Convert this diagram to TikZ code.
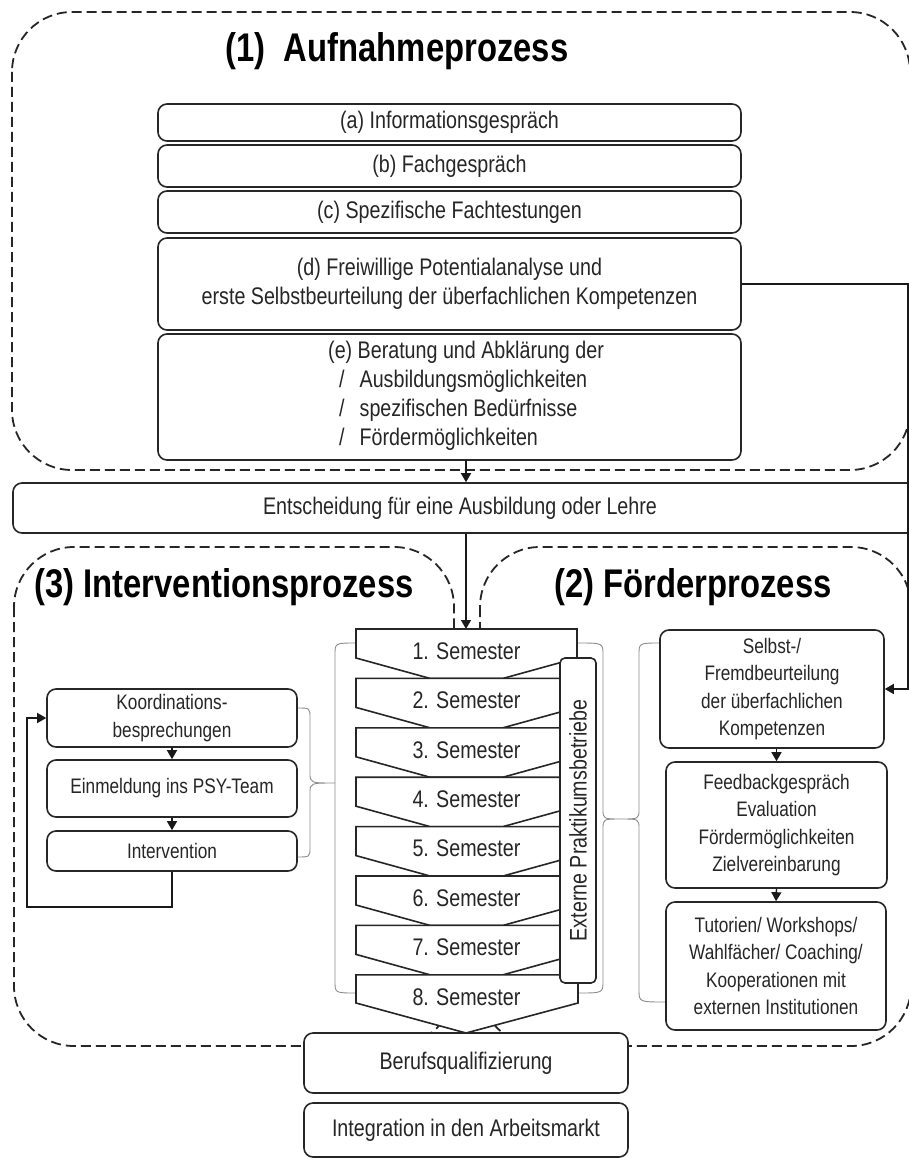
\documentclass[tikz,border=0pt]{standalone}
\usepackage{fontspec}
\setmainfont{Liberation Sans}[FakeStretch=0.82]
\usetikzlibrary{arrows.meta}
\begin{document}
\begin{tikzpicture}[x=1pt,y=-1pt,
  box/.style={draw=black!85, line width=1.6pt, rounded corners=9pt, fill=white, inner sep=0pt, align=center, font=\fontsize{24}{29}\selectfont, text=black!85},
  sbox/.style={box, font=\fontsize{21}{27.5}\selectfont},
  region/.style={draw=black!85, line width=1.8pt, dash pattern=on 10pt off 5pt, rounded corners=60pt},
  brace/.style={draw=black!45, line width=0.9pt},
  tri/.style={-{Triangle[width=10pt,length=9pt]}, line width=1.4pt, draw=black!90},
  ttl/.style={font=\fontsize{40}{42}\selectfont\bfseries, inner sep=0pt},
  semshape/.style={draw=black!85, line width=1.6pt, fill=white, line join=miter},
  semtxt/.style={font=\fontsize{24}{29}\selectfont, inner sep=0pt, text=black!85}
]
\useasboundingbox (0,0) rectangle (909,1158);
\fill[white] (0,0) rectangle (909,1158);

% regions
\draw[region] (12,12) rectangle (910,470);
\draw[region] (14,547) rectangle (454,1046);
\draw[region] (480,547) rectangle (911,1046);

% titles
\node[ttl] (t1) at (397,51) {(1)\ \ Aufnahmeprozess};
\node[ttl] (t3) at (224,587) {(3) Interventionsprozess};
\node[ttl] (t2) at (693,587) {(2) Förderprozess};

% Aufnahme boxes
\node[box, minimum width=583pt, minimum height=37pt] (a) at (449.5,122.5) {(a) Informationsgespräch};
\node[box, minimum width=583pt, minimum height=42pt] (b) at (449.5,166) {(b) Fachgespräch};
\node[box, minimum width=583pt, minimum height=42pt] (c) at (449.5,212) {(c) Spezifische Fachtestungen};
\node[box, minimum width=583pt, minimum height=92pt] (d) at (449.5,284) {(d) Freiwillige Potentialanalyse und\\erste Selbstbeurteilung der überfachlichen Kompetenzen};
\node[box, minimum width=583pt, minimum height=126pt] (e) at (449.5,397) {};
\node[anchor=west, align=left, inner sep=0pt, font=\fontsize{24}{29}\selectfont, text=black!85] (etxt) at (328,395.5)
 {(e) Beratung und Abklärung der\\
  \hspace*{11pt}/\hspace*{15pt}Ausbildungsmöglichkeiten\\
  \hspace*{11pt}/\hspace*{15pt}spezifischen Bedürfnisse\\
  \hspace*{11pt}/\hspace*{15pt}Fördermöglichkeiten};

% Entscheidung
\node[box, minimum width=912pt, minimum height=50pt] (ent) at (469,508) {};
\node[semtxt] (enttxt) at (460,508) {Entscheidung für eine Ausbildung oder Lehre};

\coordinate (ax) at (466,0);
\coordinate (s1top) at (466,629);
\draw[tri] (e.south -| ax) -- (ent.north -| ax);
\draw[tri] (ent.south -| ax) -- (s1top);

% braces around semesters
\draw[brace] (356,643) .. controls (335,643) .. (335,655) -- (335,981) .. controls (335,993) .. (356,993);
\draw[brace] (297,708) .. controls (310,708) .. (310,718) -- (310,773) .. controls (310,783) .. (335,783) .. controls (310,783) .. (310,793) -- (310,847) .. controls (310,857) .. (297,857);
\draw[brace] (578,643) .. controls (603,643) .. (603,655) -- (603,809) .. controls (603,819) .. (621,819) .. controls (603,819) .. (603,829) -- (603,981) .. controls (603,993) .. (578,993);
\draw[brace] (660,643) .. controls (639,643) .. (639,655) -- (639,809) .. controls (639,819) .. (621,819) .. controls (639,819) .. (639,829) -- (639,990) .. controls (639,1002) .. (666,1002);

% semesters
\foreach \i in {1,...,7} {
  \pgfmathsetmacro\t{629+(\i-1)*49.4}
  \draw[semshape] (356,\t) -- (577,\t) -- (577,\t+29) -- (503,\t+49.4) -- (430,\t+49.4) -- (356,\t+29) -- cycle;
  \node[semtxt] (s\i) at (466.5,\t+22) {\i. Semester};
}
\draw[semshape] (356,974.8) -- (578,974.8) -- (578,1003) -- (466,1033) -- (356,1003) -- cycle;
\node[semtxt] (s8) at (466.5,997) {8. Semester};

% Externe
\node[box, rounded corners=5pt, rotate=90, minimum width=325pt, minimum height=36pt] (ext) at (578,820.5) {Externe Praktikumsbetriebe};

% Interventions boxes
\node[sbox, minimum width=250pt, minimum height=58pt] (koord) at (172,718) {Koordinations-\\besprechungen};
\node[sbox, minimum width=250pt, minimum height=57pt] (einm) at (172,788.5) {Einmeldung ins PSY-Team};
\node[sbox, minimum width=250pt, minimum height=40pt] (interv) at (172,851) {Intervention};
\draw[tri] (koord.south) -- (einm.north);
\draw[tri] (einm.south) -- (interv.north);
\coordinate (lp) at (27,907);
\draw[tri] (interv.south) |- (lp) |- (koord.west);

% Förder boxes
\node[sbox, minimum width=224pt, minimum height=118pt] (selbst) at (772,689) {Selbst-/\\Fremdbeurteilung\\der überfachlichen\\Kompetenzen};
\node[sbox, minimum width=221pt, minimum height=126pt] (feed) at (776.5,825) {Feedbackgespräch\\Evaluation\\Fördermöglichkeiten\\Zielvereinbarung};
\node[sbox, minimum width=220pt, minimum height=128pt] (tut) at (776,966) {Tutorien/ Workshops/\\Wahlfächer/ Coaching/\\Kooperationen mit\\externen Institutionen};
\draw[tri] (selbst.south -| feed.north) -- (feed.north);
\draw[tri] (feed.south) -- (tut.north);

\coordinate (rc) at (908,0);
\draw[tri] (d.east) -- (d.east -| rc) |- (selbst.east);

% bottom
\node[box, minimum width=324pt, minimum height=60pt] (beruf) at (466,1063) {Berufsqualifizierung};
\node[box, minimum width=324pt, minimum height=54pt] (integ) at (466,1130) {Integration in den Arbeitsmarkt};
\end{tikzpicture}
\end{document}
